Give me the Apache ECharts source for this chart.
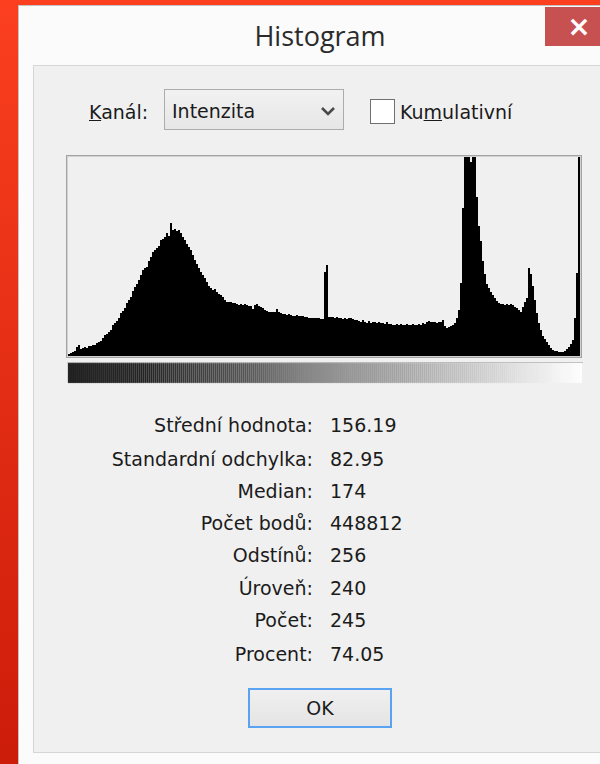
<!DOCTYPE html>
<html>
<head>
<meta charset="utf-8">
<script src="https://cdn.jsdelivr.net/npm/echarts@6/dist/echarts.min.js"></script>
<style>
  html, body { margin: 0; padding: 0; }
  body {
    width: 600px; height: 764px; overflow: hidden; position: relative;
    background: linear-gradient(#fb3f1f, #cc1c0a);
    font-family: "DejaVu Sans", sans-serif; color: #1b1b1b;
  }
  .abs { position: absolute; }
  #win { left: 18px; top: 5px; width: 640px; height: 800px; background: #fbfbfb;
         border: 1px solid #c4c4c4; box-sizing: border-box; }
  #close { left: 545px; top: 7px; width: 70px; height: 39px; background: #c75050; }
  #closeX { left: 545px; top: 7px; width: 68px; height: 39px; color: #fff;
            font: bold 28px "DejaVu Sans", sans-serif; line-height: 39px; text-align: center; }
  #title { left: 220px; top: 16px; width: 200px; text-align: center;
           font: 27px "Open Sans", sans-serif; color: #2b2b2b; line-height: 40px; }
  #panel { left: 33px; top: 65px; width: 640px; height: 688px; background: #f0f0f0;
           border: 1px solid #d6d6d6; box-sizing: border-box; }
  .ui { font-size: 19px; line-height: 24px; white-space: nowrap; }
  #combo { left: 164px; top: 89px; width: 180px; height: 41px; box-sizing: border-box;
           border: 1px solid #acacac; background: linear-gradient(#f2f2f2, #e6e6e6); }
  #check { left: 370px; top: 99px; width: 25px; height: 25px; box-sizing: border-box;
           border: 1px solid #707070; background: #fff; }
  #frame { left: 66px; top: 155px; width: 516px; height: 203px; box-sizing: border-box;
           border: 1px solid #a3a3a3; box-shadow: inset 0 0 0 1px #d2d2d2; }
  #stripLine { left: 67px; top: 362px; width: 516px; height: 1px; background: #bdbdbd; }
  #hist { left: 60px; top: 150px; width: 530px; height: 240px; }
  .lab { width: 313px; left: 0; text-align: right; }
  .val { left: 330px; }
  #ok { left: 248px; top: 688px; width: 144px; height: 40px; box-sizing: border-box;
        border: 2px solid #5aa3f2; background: linear-gradient(#f0f0f0, #e4e4e4);
        text-align: center; line-height: 36px; font-size: 19px; }
</style>
</head>
<body>
<div id="win" class="abs"></div>
<div id="close" class="abs"></div>
<div id="closeX" class="abs">×</div>
<div id="title" class="abs">Histogram</div>
<div id="panel" class="abs"></div>

<div class="abs ui" style="left:89px; top:100px;"><u>K</u>anál:</div>
<div id="combo" class="abs"></div>
<div class="abs ui" style="left:172px; top:99px;">Intenzita</div>
<svg class="abs" style="left:320px; top:104px;" width="16" height="14">
  <polyline points="2,4 8,10 14,4" fill="none" stroke="#4a4a4a" stroke-width="2.6"/>
</svg>
<div id="check" class="abs"></div>
<div class="abs ui" style="left:400px; top:100px;">Ku<u>m</u>ulativní</div>

<div id="frame" class="abs"></div>
<div id="stripLine" class="abs"></div>
<div id="hist" class="abs"></div>

<div id="stats"></div>
<div id="ok" class="abs">OK</div>

<script>
// intensity histogram, 256 bins (relative height, top of plot = 199)
const intensityCounts = [
  2, 3, 4, 5, 9, 11, 7, 8, 9, 8, 10, 10, 11, 11, 13, 14,
  15, 18, 21, 22, 24, 26, 31, 33, 35, 38, 43, 45, 48, 53, 56, 59,
  65, 69, 72, 76, 81, 86, 88, 89, 95, 99, 104, 106, 108, 110, 116, 117,
  119, 123, 120, 133, 126, 127, 125, 126, 123, 119, 116, 112, 109, 106, 101, 96,
  92, 88, 84, 81, 78, 74, 70, 68, 66, 67, 64, 62, 61, 59, 56, 54,
  54, 54, 53, 53, 52, 51, 52, 51, 52, 51, 50, 50, 47, 51, 52, 50,
  49, 48, 46, 45, 44, 44, 44, 44, 47, 44, 43, 42, 42, 41, 42, 41,
  40, 40, 41, 40, 40, 40, 39, 39, 38, 38, 38, 38, 38, 38, 37, 37,
  84, 91, 39, 39, 39, 38, 39, 38, 38, 37, 38, 37, 38, 38, 37, 36,
  36, 35, 34, 36, 34, 33, 35, 33, 34, 34, 33, 34, 33, 33, 32, 34,
  32, 32, 31, 31, 32, 31, 32, 31, 31, 32, 31, 31, 32, 31, 31, 32,
  31, 33, 32, 34, 35, 34, 34, 34, 33, 34, 34, 36, 30, 28, 29, 30,
  31, 33, 38, 46, 73, 148, 210, 210, 210, 194, 210, 205, 159, 130, 115, 95,
  82, 72, 68, 64, 61, 58, 55, 53, 52, 52, 51, 52, 51, 52, 51, 49,
  48, 46, 44, 49, 54, 58, 88, 82, 70, 56, 43, 33, 26, 20, 17, 14,
  11, 8, 6, 5, 5, 4, 4, 4, 5, 7, 9, 12, 16, 38, 83, 210
];
const levels = intensityCounts.map((_, i) => String(i));

const statLabels = ["Střední hodnota:", "Standardní odchylka:", "Median:", "Počet bodů:",
                    "Odstínů:", "Úroveň:", "Počet:", "Procent:"];
const statValues = ["156.19", "82.95", "174", "448812", "256", "240", "245", "74.05"];
const statRowsY = [425, 459, 491, 523, 555, 588, 620, 654];

const stats = document.getElementById("stats");
statLabels.forEach((lab, i) => {
  const top = statRowsY[i] - 12;
  stats.insertAdjacentHTML("beforeend",
    `<div class="abs ui lab" style="top:${top}px">${lab}</div>` +
    `<div class="abs ui val" style="top:${top}px">${statValues[i]}</div>`);
});

const chart = echarts.init(document.getElementById("hist"), null, { renderer: "canvas" });

// grey ramp under the plot, one cell per level
const ramp = levels.map((_, i) => {
  const c = `rgb(${i},${i},${i})`;
  return { value: 1, itemStyle: { color: c, borderColor: c, borderWidth: 0.6 } };
});

chart.setOption({
  animation: false,
  grid: [
    { left: 8, top: 7, width: 512, height: 199 },
    { left: 8, top: 213, width: 514, height: 20 }
  ],
  xAxis: [
    { type: "category", gridIndex: 0, data: levels, show: false },
    { type: "category", gridIndex: 1, data: levels, show: false }
  ],
  yAxis: [
    { type: "value", gridIndex: 0, min: 0, max: 199, show: false },
    { type: "value", gridIndex: 1, min: 0, max: 1, show: false }
  ],
  series: [
    {
      type: "bar",
      xAxisIndex: 0,
      yAxisIndex: 0,
      data: intensityCounts,
      barCategoryGap: "0%",
      clip: true,
      silent: true,
      itemStyle: { color: "#000" }
    },
    {
      type: "bar",
      xAxisIndex: 1,
      yAxisIndex: 1,
      data: ramp,
      barCategoryGap: "0%",
      silent: true
    }
  ]
});
</script>
</body>
</html>
